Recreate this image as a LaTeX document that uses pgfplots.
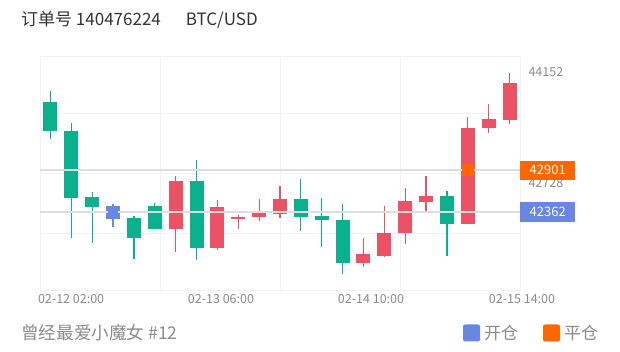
\documentclass[border=0pt]{standalone}
\usepackage{pgfplots}
\pgfplotsset{compat=1.18}
\usepackage{pgfplotstable}
\usepackage{fontspec}
\setmainfont{Noto Sans CJK SC}
\definecolor{cRed}{RGB}{236,82,102}
\definecolor{cGreen}{RGB}{10,177,140}
\definecolor{cBlue}{RGB}{104,135,226}
\definecolor{cOrange}{RGB}{255,102,0}
\definecolor{gridc}{RGB}{242,242,242}
\definecolor{markc}{RGB}{222,222,222}
\definecolor{labc}{RGB}{140,140,140}
\definecolor{titc}{RGB}{51,51,51}

% x = candle index, open high low close
\pgfplotstableread{
x open high low close
6 42144 42828 41845 42760
8 41896 42516 41875 42422
9 42272 42324 42144 42302
10 42294 42529 42251 42358
11 42336 42696 42281 42529
15 41704 42032 41653 41819
16 41798 42439 41781 42097
17 42089 42666 41948 42503
18 42490 42824 42358 42567
20 42212 43585 42212 43444
21 43436 43744 43372 43551
22 43543 44152 43491 44021
}\redData
\pgfplotstableread{
x open high low close
0 43777 43915 43299 43401
1 43401 43500 42032 42538
2 42551 42615 41968 42430
4 42289 42311 41759 42032
5 42443 42481 42144 42144
7 42760 43025 41746 41896
12 42529 42782 42118 42294
13 42307 42538 41917 42256
14 42263 42461 41567 41704
19 42567 42635 41798 42212
}\greenData
\pgfplotstableread{
x open high low close
3 42439 42465 42166 42272
}\blueData

\pgfplotsset{
  wick/.style={draw=none, mark=none, forget plot, mark options={draw=none,fill=none},
    error bars/.cd, y dir=plus, y explicit, error mark=none,
    error bar style={draw=#1, line width=1.2pt}},
  body/.style={draw=none, mark=none, forget plot, mark options={draw=none,fill=none},
    error bars/.cd, y dir=plus, y explicit, error mark=none,
    error bar style={draw=#1, line width=14pt}},
}

\begin{document}
\begin{tikzpicture}[x=1pt,y=1pt]
\useasboundingbox (0,0) rectangle (620,352);
\fill[white] (0,0) rectangle (620,352);
\begin{axis}[
  at={(40pt,61pt)}, anchor=south west,
  scale only axis, width=480pt, height=234pt,
  xmin=-0.5, xmax=22.5, ymin=41349, ymax=44351,
  scaled y ticks=false,
  axis line style={draw=none},
  tick style={draw=none},
  clip=false,
  xtick={0.99,8.17,15.36,22.5},
  xticklabels={02-12 02:00,02-13 06:00,02-14 10:00,\hspace*{4pt}02-15 14:00},
  xticklabel style={font=\fontsize{12.5}{14}\selectfont, text=labc},
  ytick={44152,42728},
  yticklabels={44152,42728},
  yticklabel pos=right,
  yticklabel style={font=\fontsize{12.5}{14}\selectfont, text=labc, xshift=5pt},
  extra x ticks={-0.5,5.25,11,16.75,22.5},
  extra x tick labels={\empty},
  extra x tick style={grid=major, major grid style={draw=gridc, line width=1pt}},
  extra y ticks={41349,42093,42856,43620,44351},
  extra y tick labels={\empty},
  extra y tick style={grid=major, major grid style={draw=gridc, line width=1pt}},
]
% wicks
\addplot[wick=cGreen] table[x=x, y=low, y error expr=\thisrow{high}-\thisrow{low}] {\greenData};
\addplot[wick=cRed] table[x=x, y=low, y error expr=\thisrow{high}-\thisrow{low}] {\redData};
\addplot[wick=cBlue] table[x=x, y=low, y error expr=\thisrow{high}-\thisrow{low}] {\blueData};
% bodies
\addplot[body=cGreen] table[x=x, y=close, y error expr=\thisrow{open}-\thisrow{close}] {\greenData};
\addplot[body=cRed] table[x=x, y=open, y error expr=\thisrow{close}-\thisrow{open}] {\redData};
\addplot[body=cBlue] table[x=x, y=close, y error expr=\thisrow{open}-\thisrow{close}] {\blueData};
% mark lines
\addplot[draw=markc, line width=1.4pt, forget plot] coordinates {(-0.5,42901) (22.5,42901)};
\addplot[draw=markc, line width=1.4pt, forget plot] coordinates {(-0.5,42362) (22.5,42362)};
% mark points
\addplot[only marks, mark=square*, mark size=4.5pt, color=cBlue] coordinates {(3,42362)};
\addplot[only marks, mark=square*, mark size=5.5pt, color=cOrange] coordinates {(20,42901)};
\coordinate (mo) at (axis cs:22.5,42901);
\coordinate (mb) at (axis cs:22.5,42362);
\end{axis}
\node[anchor=west, fill=cOrange, text=white, minimum width=55pt, minimum height=19pt, inner sep=0pt,
  font=\fontsize{13}{15}\selectfont] at (mo) {42901};
\node[anchor=west, fill=cBlue, text=white, minimum width=55pt, minimum height=20pt, inner sep=0pt,
  font=\fontsize{13}{15}\selectfont] at (mb) {42362};
% title
\node[anchor=west, inner sep=0pt, text=titc, font=\fontsize{17}{20}\selectfont] at (21,332)
  {订单号 140476224\hspace{25pt}BTC/USD};
% footer
\node[anchor=west, inner sep=0pt, text=labc, font=\fontsize{17.6}{20}\selectfont] at (21,19)
  {曾经最爱小魔女 \#12};
\fill[cBlue, rounded corners=2pt] (463,10.5) rectangle (480,27.5);
\node[anchor=west, inner sep=0pt, text=labc, font=\fontsize{17}{20}\selectfont] at (484,19) {开仓};
\fill[cOrange, rounded corners=2pt] (543,10.5) rectangle (560,27.5);
\node[anchor=west, inner sep=0pt, text=labc, font=\fontsize{17}{20}\selectfont] at (564,19) {平仓};
\end{tikzpicture}
\end{document}
